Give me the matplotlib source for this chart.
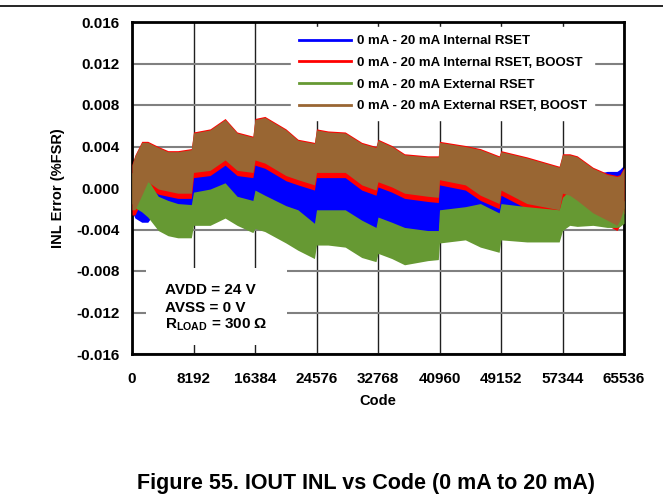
import matplotlib
matplotlib.use("Agg")
import matplotlib.pyplot as plt
from matplotlib.lines import Line2D
from matplotlib.patches import Rectangle

plt.rcParams['font.family'] = ['Liberation Sans', 'DejaVu Sans']
plt.rcParams['font.weight'] = 'bold'
plt.rcParams['mathtext.fontset'] = 'custom'
plt.rcParams['mathtext.rm'] = 'Liberation Sans:bold'
plt.rcParams['mathtext.bf'] = 'Liberation Sans:bold'

# envelope of each noisy trace (upper / lower edge)
codes = [0, 400, 1300, 2100, 3500, 4800, 6100, 7900, 8192, 10400, 12400, 14000,
         16100, 16384, 17700, 20500, 22100, 24300, 24576, 26100, 28400, 30600,
         32500, 32768, 34600, 36300, 39400, 40800, 40960, 44400, 46400, 48900,
         49152, 52600, 56900, 57344, 58300, 59300, 61400, 63300, 64600, 65000, 65535]

int_hi = [-0.0009, -0.0009, 0.0005, 0.0018, 0.0011, 0.0009, 0.0007, 0.0007, 0.0027, 0.0029, 0.0039, 0.0029,
          0.0027, 0.0039, 0.0036, 0.0024, 0.0020, 0.0015, 0.0027, 0.0027, 0.0026, 0.0015,
          0.0010, 0.0018, 0.0013, 0.0007, 0.0004, 0.0003, 0.0019, 0.0015, 0.0006, -0.0002,
          0.0010, -0.0002, -0.0009, 0.0007, 0.0005, 0.0008, 0.0013, 0.0016, 0.0016, 0.0018, 0.0022]
int_lo = [-0.0023, -0.0029, -0.0033, -0.0033, -0.0019, -0.0023, -0.0026, -0.0028, -0.0015, -0.0012, -0.0006, -0.0019,
          -0.0023, -0.0013, -0.0018, -0.0028, -0.0032, -0.0045, -0.0032, -0.0032, -0.0032, -0.0042,
          -0.0049, -0.0039, -0.0044, -0.0049, -0.0052, -0.0052, -0.0032, -0.0029, -0.0026, -0.0035,
          -0.0026, -0.0029, -0.0032, -0.0020, -0.0013, -0.0015, -0.0023, -0.0030, -0.0036, -0.0035, -0.0025]

int_boost_hi = [0.0023, 0.0032, 0.0045, 0.0045, 0.0040, 0.0036, 0.0036, 0.0038, 0.0054, 0.0057, 0.0067, 0.0054,
                0.0050, 0.0067, 0.0069, 0.0057, 0.0047, 0.0044, 0.0057, 0.0055, 0.0054, 0.0044,
                0.0040, 0.0047, 0.0041, 0.0033, 0.0031, 0.0031, 0.0045, 0.0041, 0.0038, 0.0031,
                0.0036, 0.0030, 0.0021, 0.0033, 0.0033, 0.0031, 0.0020, 0.0014, 0.0012, 0.0013, 0.0020]
int_boost_lo = [-0.0026, -0.0026, -0.0012, 0.0001, -0.0006, -0.0008, -0.0010, -0.0010, 0.0010, 0.0012, 0.0022, 0.0012,
                0.0010, 0.0022, 0.0019, 0.0007, 0.0003, -0.0002, 0.0010, 0.0010, 0.0010, -0.0002,
                -0.0007, 0.0001, -0.0004, -0.0010, -0.0013, -0.0014, 0.0003, -0.0002, -0.0012, -0.0020,
                -0.0007, -0.0020, -0.0026, -0.0010, -0.0012, -0.0017, -0.0029, -0.0036, -0.0041, -0.0036, -0.0024]

ext_hi = [0.0015, 0.0012, 0.0005, 0.0008, -0.0008, -0.0012, -0.0015, -0.0016, -0.0004, -0.0001, 0.0005, -0.0008,
          -0.0012, -0.0002, -0.0007, -0.0017, -0.0021, -0.0034, -0.0021, -0.0021, -0.0021, -0.0031,
          -0.0038, -0.0028, -0.0033, -0.0038, -0.0041, -0.0041, -0.0021, -0.0018, -0.0015, -0.0024,
          -0.0015, -0.0018, -0.0021, -0.0009, -0.0002, -0.0004, -0.0012, -0.0015, -0.0018, -0.0017, -0.0012]
ext_lo = [-0.0015, -0.0019, -0.0023, -0.0028, -0.0041, -0.0046, -0.0048, -0.0048, -0.0036, -0.0036, -0.0029, -0.0036,
          -0.0043, -0.0039, -0.0042, -0.0053, -0.0060, -0.0068, -0.0055, -0.0055, -0.0057, -0.0067,
          -0.0071, -0.0063, -0.0068, -0.0074, -0.0070, -0.0069, -0.0053, -0.0050, -0.0057, -0.0062,
          -0.0050, -0.0052, -0.0052, -0.0041, -0.0036, -0.0037, -0.0036, -0.0038, -0.0038, -0.0037, -0.0034]

ext_boost_hi = [0.0022, 0.0031, 0.0044, 0.0044, 0.0039, 0.0035, 0.0035, 0.0037, 0.0053, 0.0056, 0.0066, 0.0053,
                0.0049, 0.0066, 0.0068, 0.0056, 0.0046, 0.0043, 0.0056, 0.0054, 0.0053, 0.0043,
                0.0039, 0.0046, 0.0040, 0.0032, 0.0030, 0.0030, 0.0044, 0.0040, 0.0037, 0.0030,
                0.0035, 0.0029, 0.0020, 0.0032, 0.0032, 0.0030, 0.0019, 0.0013, 0.0011, 0.0012, 0.0019]
ext_boost_lo = [-0.0021, -0.0021, -0.0007, 0.0006, -0.0001, -0.0003, -0.0005, -0.0005, 0.0015, 0.0017, 0.0027, 0.0017,
                0.0015, 0.0027, 0.0024, 0.0012, 0.0008, 0.0003, 0.0015, 0.0015, 0.0015, 0.0003,
                -0.0002, 0.0006, 0.0001, -0.0005, -0.0008, -0.0009, 0.0008, 0.0003, -0.0007, -0.0015,
                -0.0002, -0.0015, -0.0021, -0.0005, -0.0007, -0.0012, -0.0024, -0.0031, -0.0036, -0.0031, -0.0019]

labels = ['0 mA - 20 mA Internal RSET', '0 mA - 20 mA Internal RSET, BOOST',
          '0 mA - 20 mA External RSET', '0 mA - 20 mA External RSET, BOOST']
colors = ['#0000FF', '#FF0000', '#669933', '#996633']
bands = [(int_hi, int_lo), (int_boost_hi, int_boost_lo), (ext_hi, ext_lo), (ext_boost_hi, ext_boost_lo)]

x_ticks = [0, 8192, 16384, 24576, 32768, 40960, 49152, 57344, 65536]
y_ticks = [-0.016, -0.012, -0.008, -0.004, 0.000, 0.004, 0.008, 0.012, 0.016]

fig = plt.figure(figsize=(6.63, 4.97), dpi=100)
ax = fig.add_axes([132 / 663, 1 - 354 / 497, 492 / 663, 332 / 497])

for i, (hi, lo) in enumerate(bands):
    ax.fill_between(codes, lo, hi, color=colors[i], lw=0, zorder=2 + i)

ax.set_xlim(0, 65536)
ax.set_ylim(-0.016, 0.016)
ax.set_xticks(x_ticks)
ax.set_yticks(y_ticks)
ax.set_xticklabels([str(t) for t in x_ticks])
ax.set_yticklabels(['%.3f' % t for t in y_ticks])
ax.tick_params(length=0, labelsize=11)
ax.tick_params(axis='x', pad=13)
ax.tick_params(axis='y', pad=9)
ax.set_axisbelow(True)
ax.xaxis.grid(True, color='#202020', lw=1)
ax.yaxis.grid(True, color='#808080', lw=1.5)
for s in ax.spines.values():
    s.set_linewidth(2)

ax.set_xlabel('Code', fontsize=10.5, fontweight='bold', labelpad=6)
ax.set_ylabel('INL Error (%FSR)', fontsize=10.5, fontweight='bold', labelpad=8)

handles = [Line2D([], [], color=c, lw=2) for c in colors]
leg = ax.legend(handles, labels, loc='upper right', bbox_to_anchor=(0.94, 0.985),
                fontsize=9.5, frameon=True, fancybox=False, edgecolor='white',
                framealpha=1, handlelength=4.0, handletextpad=0.4,
                labelspacing=0.72, borderpad=0.6, borderaxespad=0)
leg.set_zorder(10)

ax.add_patch(Rectangle((0.028, 0.027), 0.287, 0.232, transform=ax.transAxes,
                       facecolor='white', edgecolor='none', zorder=1))
ax.text(0.067, 0.193, 'AVDD = 24 V', transform=ax.transAxes, fontsize=11,
        fontweight='bold', va='center', zorder=6)
ax.text(0.067, 0.140, 'AVSS = 0 V', transform=ax.transAxes, fontsize=11,
        fontweight='bold', va='center', zorder=6)
ax.text(0.067, 0.087, r'R$_{\mathrm{LOAD}}$ = 300 Ω', transform=ax.transAxes, fontsize=11,
        fontweight='bold', va='center', zorder=6)

fig.add_artist(Line2D([0, 1], [1 - 6 / 497, 1 - 6 / 497], color='black', lw=1.2))
fig.text(366 / 663, 1 - 483 / 497, 'Figure 55. IOUT INL vs Code (0 mA to 20 mA)',
         fontsize=15.5, fontweight='bold', ha='center', va='center')

fig.savefig('out.png', dpi=100)
